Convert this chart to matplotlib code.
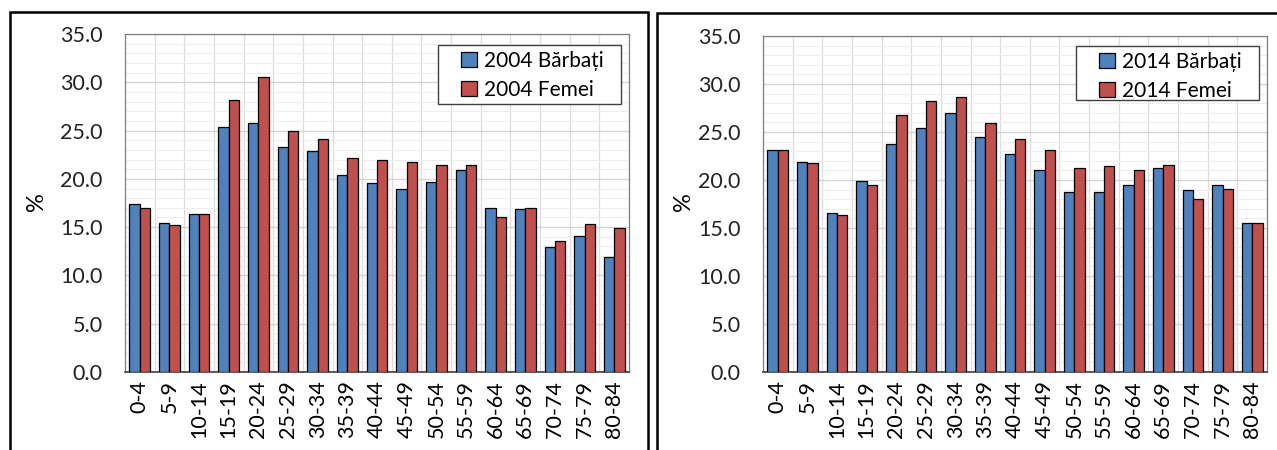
import matplotlib
matplotlib.use("Agg")
import matplotlib.pyplot as plt
from matplotlib.patches import Rectangle
from matplotlib.ticker import MultipleLocator, FormatStrFormatter
import numpy as np

plt.rcParams['font.family'] = ['Lato', 'DejaVu Sans']

# ------------------------ data ------------------------
age_groups = ["0-4", "5-9", "10-14", "15-19", "20-24", "25-29", "30-34", "35-39",
              "40-44", "45-49", "50-54", "55-59", "60-64", "65-69", "70-74", "75-79", "80-84"]

men_2004 = [17.4, 15.4, 16.4, 25.4, 25.8, 23.3, 22.9, 20.4, 19.6, 19.0, 19.7, 20.9,
            17.0, 16.9, 12.9, 14.1, 11.9]
women_2004 = [17.0, 15.2, 16.4, 28.2, 30.5, 25.0, 24.1, 22.2, 22.0, 21.7, 21.4, 21.4,
              16.0, 17.0, 13.6, 15.3, 14.9]

men_2014 = [23.1, 21.9, 16.6, 19.9, 23.8, 25.4, 27.0, 24.5, 22.7, 21.0, 18.7, 18.8,
            19.5, 21.2, 19.0, 19.5, 15.5]
women_2014 = [23.1, 21.8, 16.4, 19.5, 26.8, 28.2, 28.6, 25.9, 24.3, 23.1, 21.2, 21.5,
              21.0, 21.6, 18.0, 19.1, 15.5]

panels = [
    ("2004 Bărbați", "2004 Femei", men_2004, women_2004),
    ("2014 Bărbați", "2014 Femei", men_2014, women_2014),
]

blue = "#4F81BD"
red = "#C0504D"

W, H = 1277, 450
fig = plt.figure(figsize=(W / 100, H / 100), dpi=100)

# pixel box -> figure fraction
def px_rect(x0, y0, x1, y1):
    return (x0 / W, 1 - y1 / H, (x1 - x0) / W, (y1 - y0) / H)

# outer frames around each chart
for (x0, y0, x1, y1) in [(10, 12, 648, 470), (657, 13, 1290, 470)]:
    l, b, w, h = px_rect(x0, y0, x1, y1)
    fig.patches.append(Rectangle((l, b), w, h, transform=fig.transFigure,
                                 fill=False, edgecolor="black", linewidth=1.8))

axes_px = [(125, 34, 629, 372), (763, 36, 1267, 372)]
legend_px = [(438, 45, 621, 104), (1076, 46, 1259, 100)]
ylabel_x = [37, 683]

x = np.arange(len(age_groups))
bw = 0.35

for (lab_m, lab_f, m, f), (x0, y0, x1, y1), (lx0, ly0, lx1, ly1), ylx in zip(panels, axes_px, legend_px, ylabel_x):
    ax = fig.add_axes(px_rect(x0, y0, x1, y1))
    ax.set_axisbelow(True)
    ax.bar(x - bw / 2, m, bw, color=blue, edgecolor="black", linewidth=0.9, label=lab_m, zorder=3)
    ax.bar(x + bw / 2, f, bw, color=red, edgecolor="black", linewidth=0.9, label=lab_f, zorder=3)

    ax.set_xlim(-0.5, len(age_groups) - 0.5)
    ax.set_ylim(0, 35)
    ax.yaxis.set_major_locator(MultipleLocator(5))
    ax.yaxis.set_minor_locator(MultipleLocator(1))
    ax.yaxis.set_major_formatter(FormatStrFormatter("%.1f"))
    ax.set_xticks(x)
    ax.set_xticklabels(age_groups, rotation=90, fontsize=15.5, color="black")
    ax.set_xticks(np.arange(len(age_groups) + 1) - 0.5, minor=True)
    ax.tick_params(axis="both", which="both", length=0)
    ax.tick_params(axis="y", labelsize=15.5, pad=16, labelcolor="#222222")
    ax.tick_params(axis="x", pad=6)

    ax.grid(axis="y", which="major", color="#D4D4D4", linewidth=1.0)
    ax.grid(axis="y", which="minor", color="#EDEDED", linewidth=0.8)
    ax.grid(axis="x", which="minor", color="#DCDCDC", linewidth=0.9)

    for s in ax.spines.values():
        s.set_color("#7F7F7F")
        s.set_linewidth(0.9)
    ax.spines["bottom"].set_color("#404040")
    ax.spines["bottom"].set_linewidth(1.2)

    # legend box drawn by hand (Excel style, wide left padding)
    bx0 = (lx0 - x0) / (x1 - x0)
    by0 = (y1 - ly1) / (y1 - y0)
    bw_ax = (lx1 - lx0) / (x1 - x0)
    bh_ax = (ly1 - ly0) / (y1 - y0)
    ax.add_patch(Rectangle((bx0, by0), bw_ax, bh_ax, transform=ax.transAxes,
                           facecolor="white", edgecolor="#404040", linewidth=1.0, zorder=5))
    ax.legend(loc="upper left", fontsize=15, frameon=False,
              handlelength=0.75, handleheight=0.75, handletextpad=0.35,
              borderpad=0, borderaxespad=0, labelspacing=0.42,
              bbox_to_anchor=((lx0 + 23 - x0) / (x1 - x0), (y1 - ly0 - 6) / (y1 - y0))).set_zorder(6)

    fig.text(ylx / W, 1 - 202 / H, "%", rotation=90, fontsize=17,
             ha="center", va="center")

fig.savefig("out.png", dpi=100)
